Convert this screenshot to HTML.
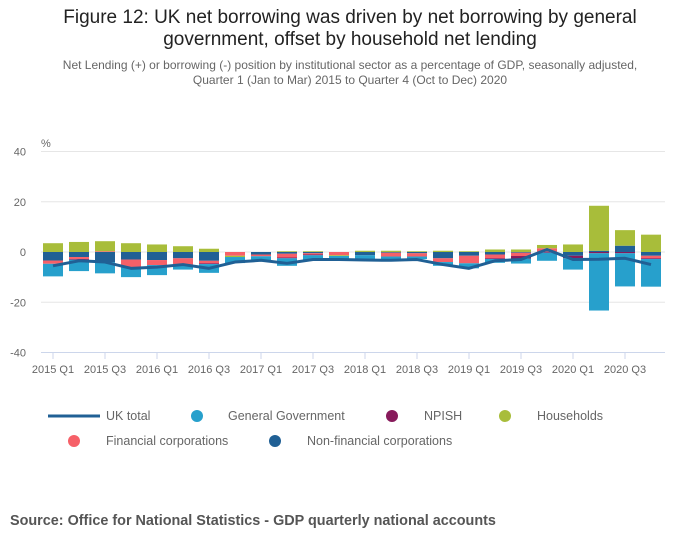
<!DOCTYPE html>
<html><head><meta charset="utf-8"><style>
body{margin:0;width:700px;height:549px;background:#fff;font-family:"Liberation Sans",sans-serif;overflow:hidden;position:relative}
.t{position:absolute;left:0;width:700px;text-align:center;color:#222}
</style></head><body>
<div class="t" style="top:7px;font-size:19px;line-height:22px">Figure 12: UK net borrowing was driven by net borrowing by general<br>government, offset by household net lending</div>
<div class="t" style="top:58px;font-size:12px;line-height:15px;color:#666">Net Lending (+) or borrowing (-) position by institutional sector as a percentage of GDP, seasonally adjusted,<br>Quarter 1 (Jan to Mar) 2015 to Quarter 4 (Oct to Dec) 2020</div>
<svg id="c" width="700" height="549" style="position:absolute;left:0;top:0"></svg>
<div style="position:absolute;left:10px;top:513px;font-size:14.4px;font-weight:bold;color:#555">Source: Office for National Statistics - GDP quarterly national accounts</div>
<script>
const categories=["2015 Q1","2015 Q2","2015 Q3","2015 Q4","2016 Q1","2016 Q2","2016 Q3","2016 Q4","2017 Q1","2017 Q2","2017 Q3","2017 Q4","2018 Q1","2018 Q2","2018 Q3","2018 Q4","2019 Q1","2019 Q2","2019 Q3","2019 Q4","2020 Q1","2020 Q2","2020 Q3","2020 Q4"];
const nfc=[-3.4,-2,-4,-3,-3.2,-2.5,-3.5,0,-1,-0.7,-0.5,0,-1.3,-0.3,-0.5,-2.5,-1.5,-1,-0.3,0,-1.5,0.5,2.5,-1.5];
const fc=[-1.3,-0.8,0.3,-3,-2,-2.5,-1,-1.5,-0.7,-1.5,-0.5,-1.3,0,-1.5,-1.3,-1.5,-3,-1.5,-1.3,1.5,0,0,0,-1];
const npish=[0,-0.3,0,0,0,0,-0.3,0,0,-0.3,-0.3,0,0,0,0,0,0,-0.3,-1,-0.3,-1,-0.5,-0.5,-0.3];
const households=[3.5,4,4,3.5,3,2.3,1.3,-0.5,0,0.3,0.3,-0.3,0.5,0.5,0.3,0.5,0.3,1,1,1.3,3,17.9,6.2,6.9];
const gg=[-5,-4.5,-4.5,-4,-4,-2,-3.5,-2.4,-1.5,-3,-2,-1.5,-2,-1.5,-1,-1.5,-2,-1.5,-2,-3.2,-4.5,-22.8,-13.2,-11];
const ukTotal=[-5.5,-3.5,-4,-6.5,-6,-5,-6.5,-4,-3.3,-4.5,-3,-3,-3.2,-3.3,-3,-5,-6.5,-3.5,-3,1,-3,-2.9,-2.5,-5];
const yTicks=[40,20,0,-20,-40];
const NS="http://www.w3.org/2000/svg";const svg=document.getElementById('c');
function y(v){return 252-v*2.5125;}
function x(i){return 53+i*26;}
function mk(t,a,p){const e=document.createElementNS(NS,t);for(const k in a)e.setAttribute(k,a[k]);(p||svg).appendChild(e);return e;}
yTicks.forEach(v=>{
 const l=mk('line',{x1:41,x2:665,y1:y(v),y2:y(v),stroke:v==-40?'#ccd6eb':'#e6e6e6','stroke-width':1});
 
 const t=mk('text',{x:26,y:y(v)+4,'text-anchor':'end','font-size':11,fill:'#666'});t.textContent=v;
 
});
const u=mk('text',{x:41,y:147,'font-size':11,fill:'#666'});u.textContent='%';

categories.forEach((c,i)=>{
 if(i%2==0){
  const tk=mk('line',{x1:x(i),x2:x(i),y1:352,y2:359,stroke:'#ccd6eb'});
  
  const t=mk('text',{x:x(i),y:373,'text-anchor':'middle','font-size':11,fill:'#666'});t.textContent=c;
  
 }
});
const series=[["nfc",nfc,"#206095"],["fc",fc,"#f66068"],["npish",npish,"#871a5b"],["households",households,"#a8bd3a"],["gg",gg,"#27a0cc"]];
categories.forEach((c,i)=>{
 let pos=0,neg=0;
 series.forEach(s=>{
  const v=s[1][i];if(!v)return;
  let a,b;if(v>0){a=pos;b=pos+v;pos=b;}else{a=neg;b=neg+v;neg=b;}
  const r=mk('rect',{x:x(i)-10,width:20,y:Math.min(y(a),y(b)),height:Math.abs(y(a)-y(b)),fill:s[2]});
  
 });
});
const ln=mk('polyline',{points:ukTotal.map((v,i)=>x(i)+','+y(v)).join(' '),fill:'none',stroke:'#206095','stroke-width':3,'stroke-linejoin':'round'});

const leg=[["line","UK total",48,416,106,"#206095"],["dot","General Government",197,416,228,"#27a0cc"],["dot","NPISH",392,416,424,"#871a5b"],["dot","Households",505,416,537,"#a8bd3a"],["dot","Financial corporations",74,441,106,"#f66068"],["dot","Non-financial corporations",275,441,307,"#206095"]];
leg.forEach(L=>{
 const g=mk('g',{});
 if(L[0]=="line")mk('line',{x1:L[2],x2:L[2]+52,y1:L[3],y2:L[3],stroke:L[5],'stroke-width':3},g);
 else mk('circle',{cx:L[2],cy:L[3],r:6,fill:L[5]},g);
 const t=mk('text',{x:L[4],y:L[3]+4,'font-size':12.5,fill:'#666'},g);t.textContent=L[1];
});
</script>
</body></html>
